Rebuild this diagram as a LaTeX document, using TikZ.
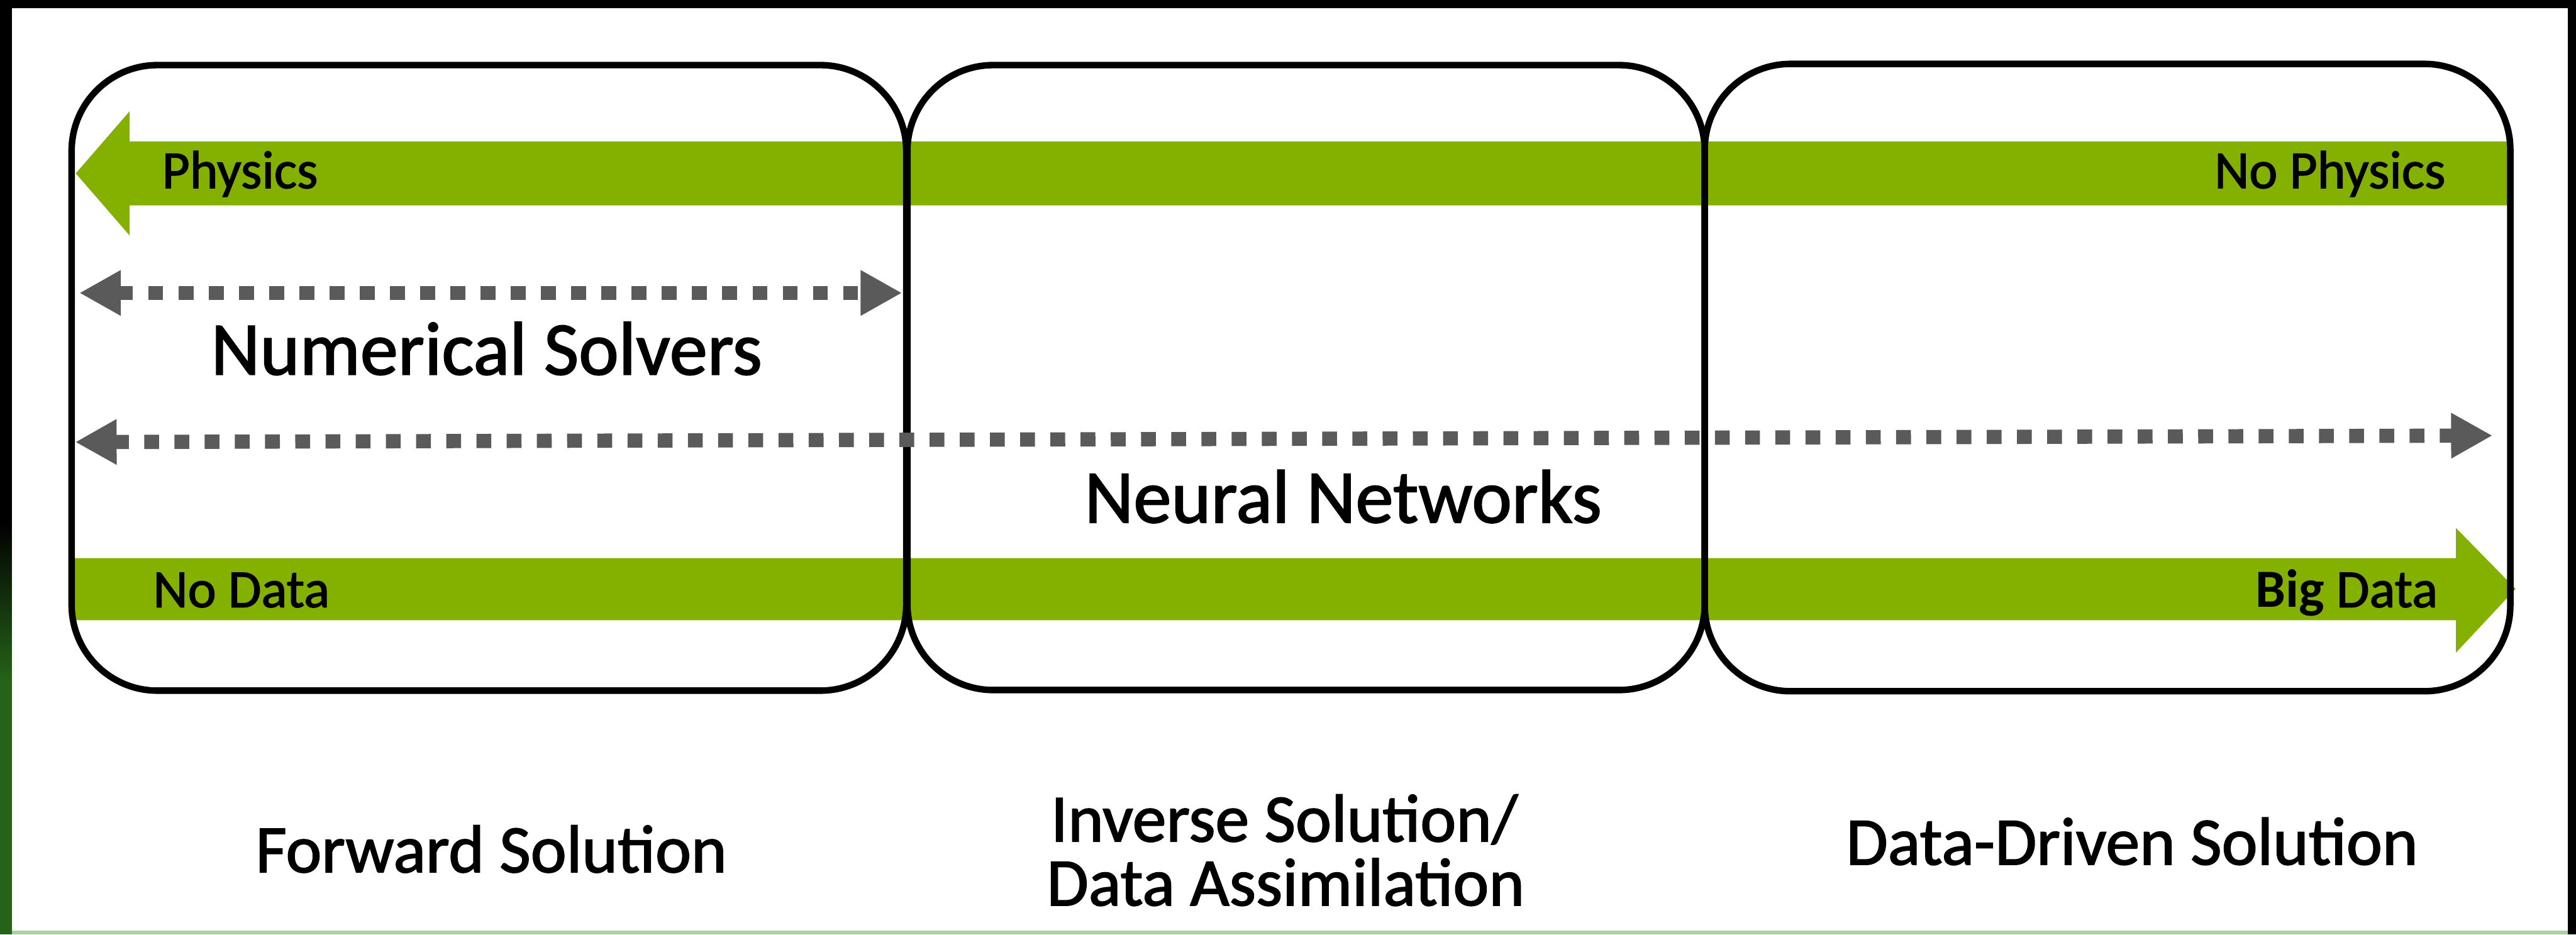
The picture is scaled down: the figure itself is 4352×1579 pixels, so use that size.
\documentclass[tikz,border=0pt]{standalone}
\usepackage{fontspec}
\setmainfont{Carlito}
\newfontfamily\medfont{Carlito}[FakeBold=1.6]
\usetikzlibrary{arrows.meta}
\definecolor{nvgreen}{RGB}{132,177,0}
\definecolor{dotgray}{RGB}{90,90,90}
\definecolor{edgegreen}{RGB}{38,98,24}
\definecolor{bottomline}{RGB}{170,210,160}
\tikzset{
  boxline/.style={draw=black, line width=0.11cm, rounded corners=1.45cm},
  greenbar/.style={fill=nvgreen, draw=none},
  dotarrow/.style={draw=dotgray, line width=0.24cm, dash pattern=on 0.25cm off 0.26cm,
     {Triangle[length=0.70cm,width=0.72cm]}-{Triangle[length=0.70cm,width=0.72cm]}},
  barlabel/.style={font=\medfont\fontsize{25.8}{28}\selectfont, inner sep=0pt},
  biglabel/.style={font=\medfont\fontsize{36.4}{40}\selectfont, inner sep=0pt},
  sollabel/.style={font=\medfont\fontsize{32.6}{32}\selectfont, inner sep=0pt}
}
\begin{document}
\begin{tikzpicture}[x=0.01cm,y=-0.01cm]
\useasboundingbox (0,0) rectangle (4352,1579);
% outer frame (screenshot border)
\fill[black] (0,0) rectangle (4352,1579);
\shade[top color=black, bottom color=edgegreen] (0,880) rectangle (20,1150);
\fill[edgegreen] (0,1150) rectangle (20,1579);
\fill[white] (20,14) rectangle (4338,1573);
\fill[bottomline] (20,1573) rectangle (4338,1579);

% green bars
\fill[greenbar] (128,293) -- (219,188) -- (219,239) -- (4240,239) -- (4240,347)
   -- (219,347) -- (219,398) -- cycle;
\fill[greenbar] (122,943) -- (4149,943) -- (4149,892) -- (4250,995) -- (4149,1103)
   -- (4149,1048) -- (122,1048) -- cycle;

% three rounded boxes
\draw[boxline] (121,110) rectangle (1531,1167);
\draw[boxline] (1533,110) rectangle (2880,1166);
\draw[boxline] (2880,108) rectangle (4241,1168);

% dotted double arrows
\coordinate (ns-l) at (134,495);
\coordinate (ns-r) at (1524,495);
\coordinate (nn-l) at (127,747);
\coordinate (nn-r) at (4211,736);
\draw[dotarrow] (ns-l) -- (ns-r);
\draw[dotarrow] (nn-l) -- (nn-r);

% bar labels
\node[barlabel, anchor=base west] (phys) at (273,318) {Physics};
\node[barlabel, anchor=base east] (nophys) at (4132,318) {No Physics};
\node[barlabel, anchor=base west] (nodata) at (258,1026) {No Data};
\node[barlabel, anchor=base east] (bigdata) at (4119,1026) {{\normalfont\bfseries Big} Data};

% method labels
\node[biglabel, anchor=base] (numsolv) at (822,633) {Numerical Solvers};
\node[biglabel, anchor=base] (neunet) at (2269,883) {Neural Networks};

% solution labels
\node[sollabel, anchor=base] (fwd) at (830,1474) {Forward Solution};
\node[sollabel, anchor=base] (inv1) at (2170,1422) {Inverse Solution/};
\node[sollabel, anchor=base] (inv2) at (2172,1530) {Data Assimilation};
\node[sollabel, anchor=base] (dds) at (3602,1461) {Data-Driven Solution};
\end{tikzpicture}
\end{document}
